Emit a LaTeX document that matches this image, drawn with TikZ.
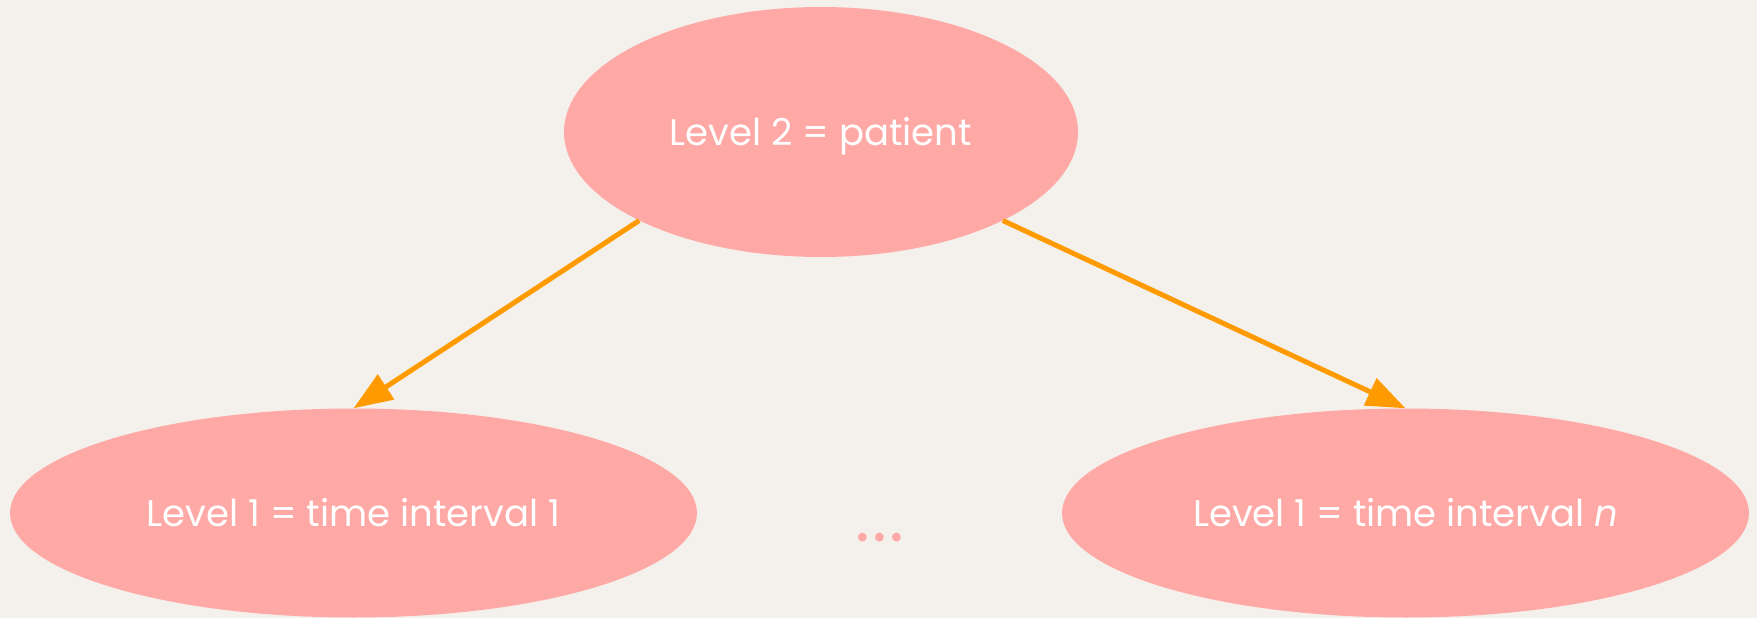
\documentclass[tikz,border=0pt]{standalone}
\usepackage{fontspec}
\setmainfont{Poppins}
\usetikzlibrary{shapes.geometric,arrows.meta}
\definecolor{paper}{HTML}{F4F1EC}
\definecolor{blob}{HTML}{FFA9A6}
\definecolor{link}{HTML}{FF9B00}
\tikzset{
  level/.style={ellipse, fill=blob, draw=none, inner sep=0pt,
    text=white, font=\fontsize{37}{44}\selectfont,
    text height=26pt, text depth=0pt},
  link/.style={draw=link, line width=5pt,
    -{Triangle[length=39pt,width=29pt]}},
}
\begin{document}
\begin{tikzpicture}[x=1pt,y=-1pt]
  \fill[paper] (0,0) rectangle (1757,618);
  \useasboundingbox (0,0) rectangle (1757,618);

  \node[level, minimum width=514pt, minimum height=250pt] (patient) at (821,132) {Level 2 = patient};
  \node[level, minimum width=687pt, minimum height=209pt] (first) at (353.5,513) {Level 1 = time interval 1};
  \node[level, minimum width=687pt, minimum height=209pt] (last) at (1405.5,513) {Level 1 = time interval \textit{n}};

  \node[text=blob, font=\fontsize{70}{80}\selectfont, inner sep=0pt, anchor=base] (gap) at (880,541) {.\kern2pt.\kern2pt.};

  \draw[link] (patient.south west) -- (first.north);
  \draw[link] (patient.south east) -- (last.north);
\end{tikzpicture}
\end{document}
